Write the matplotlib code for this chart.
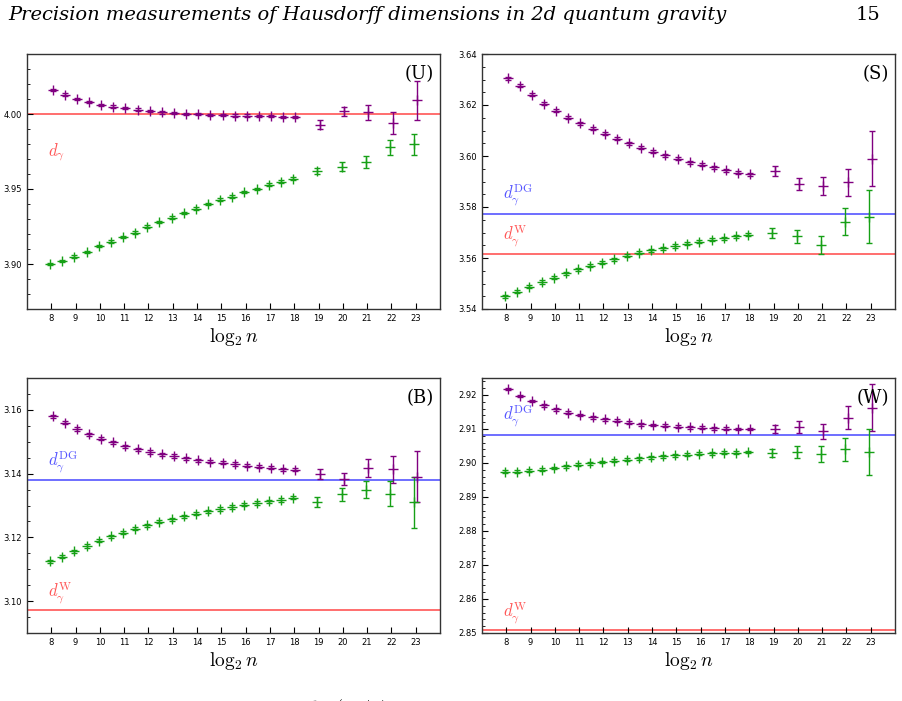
import matplotlib
matplotlib.use("Agg")
import matplotlib.pyplot as plt
import numpy as np

plt.rcParams["mathtext.fontset"] = "cm"

x_dense = [8, 8.5, 9, 9.5, 10, 10.5, 11, 11.5, 12, 12.5, 13, 13.5, 14, 14.5,
           15, 15.5, 16, 16.5, 17, 17.5, 18]
x_sparse = [19, 20, 21, 22, 23]
xticks = list(range(8, 24))

# (U)
u_purple = [4.016, 4.013, 4.010, 4.008, 4.006, 4.005, 4.004, 4.003, 4.002, 4.001, 4.0005,
            4.000, 4.000, 3.9995, 3.9995, 3.999, 3.999, 3.9985, 3.9985, 3.998, 3.998,
            3.993, 4.002, 4.001, 3.994, 4.009]
u_purple_err = [0.0008] * 21 + [0.003, 0.003, 0.005, 0.007, 0.013]
u_green = [3.900, 3.902, 3.905, 3.908, 3.912, 3.915, 3.918, 3.921, 3.925, 3.928, 3.931,
           3.934, 3.937, 3.940, 3.943, 3.945, 3.948, 3.950, 3.953, 3.955, 3.957,
           3.962, 3.965, 3.968, 3.978, 3.980]
u_green_err = [0.0008] * 21 + [0.002, 0.003, 0.004, 0.005, 0.007]

# (S)
s_purple = [3.6305, 3.6275, 3.624, 3.6205, 3.6178, 3.615, 3.6128, 3.6107, 3.6087, 3.6068,
            3.605, 3.6033, 3.6017, 3.6002, 3.599, 3.5975, 3.5966, 3.5955, 3.5944, 3.5935,
            3.5928, 3.594, 3.589, 3.5883, 3.5897, 3.599]
s_purple_err = [0.0006] * 21 + [0.002, 0.0025, 0.0035, 0.0053, 0.0107]
s_green = [3.545, 3.5467, 3.5488, 3.5506, 3.5522, 3.554, 3.5555, 3.557, 3.5582, 3.5595,
           3.5608, 3.562, 3.563, 3.5638, 3.5647, 3.5656, 3.5664, 3.5671, 3.5677, 3.5685,
           3.5691, 3.5697, 3.5685, 3.5652, 3.5743, 3.5762]
s_green_err = [0.0006] * 21 + [0.002, 0.0025, 0.0035, 0.0053, 0.0105]

# (B)
b_purple = [3.158, 3.156, 3.154, 3.1523, 3.151, 3.1498, 3.1486, 3.1476, 3.1468, 3.1461,
            3.1455, 3.1448, 3.1442, 3.1437, 3.1434, 3.143, 3.1425, 3.1422, 3.1418, 3.1414,
            3.1412, 3.1399, 3.1383, 3.1418, 3.1414, 3.139]
b_purple_err = [0.0005] * 21 + [0.0017, 0.002, 0.0029, 0.0042, 0.008]
b_green = [3.1125, 3.114, 3.1156, 3.1173, 3.1189, 3.1203, 3.1215, 3.1227, 3.1238, 3.1249,
           3.1257, 3.1266, 3.1274, 3.1282, 3.1289, 3.1295, 3.1302, 3.1308, 3.1313, 3.1317,
           3.1324, 3.1311, 3.1335, 3.1349, 3.1337, 3.131]
b_green_err = [0.0005] * 21 + [0.0017, 0.0021, 0.0027, 0.004, 0.008]

# (W)
w_purple = [2.9218, 2.9197, 2.9182, 2.917, 2.9158, 2.9148, 2.9141, 2.9134, 2.9129, 2.9124,
            2.9119, 2.9114, 2.9112, 2.911, 2.9107, 2.9105, 2.9104, 2.9102, 2.9101, 2.910,
            2.910, 2.910, 2.9106, 2.9093, 2.9133, 2.9163]
w_purple_err = [0.0004] * 21 + [0.0013, 0.0017, 0.0023, 0.0034, 0.0068]
w_green = [2.8975, 2.8974, 2.8977, 2.898, 2.8985, 2.899, 2.8995, 2.8999, 2.9003, 2.9007,
           2.901, 2.9014, 2.9017, 2.902, 2.9023, 2.9025, 2.9027, 2.9029, 2.903, 2.903,
           2.9032, 2.9029, 2.9033, 2.9027, 2.904, 2.9033]
w_green_err = [0.0004] * 21 + [0.0012, 0.0017, 0.0023, 0.0034, 0.0068]

PURPLE = "#800080"
GREEN = "#16a016"
RED = "#ff5555"
BLUE = "#5555ff"

panels = [
    dict(pos=[27, 54], tag="(U)", ylim=(3.87, 4.04), yticks=[3.90, 3.95, 4.00], minor=0.01,
         purple=(u_purple, u_purple_err), green=(u_green, u_green_err),
         lines=[(4.000, RED, r"$d_\gamma$", 0.60)]),
    dict(pos=[482, 54], tag="(S)", ylim=(3.54, 3.64), yticks=[3.54, 3.56, 3.58, 3.60, 3.62, 3.64],
         minor=0.005, purple=(s_purple, s_purple_err), green=(s_green, s_green_err),
         lines=[(3.5774, BLUE, r"$d_\gamma^{\mathrm{DG}}$", 0.43),
                (3.5616, RED, r"$d_\gamma^{\mathrm{W}}$", 0.27)]),
    dict(pos=[27, 378], tag="(B)", ylim=(3.09, 3.17), yticks=[3.10, 3.12, 3.14, 3.16], minor=0.005,
         purple=(b_purple, b_purple_err), green=(b_green, b_green_err),
         lines=[(3.138, BLUE, r"$d_\gamma^{\mathrm{DG}}$", 0.655),
                (3.0972, RED, r"$d_\gamma^{\mathrm{W}}$", 0.14)]),
    dict(pos=[482, 378], tag="(W)", ylim=(2.85, 2.925),
         yticks=[2.85, 2.86, 2.87, 2.88, 2.89, 2.90, 2.91, 2.92], minor=0.002,
         purple=(w_purple, w_purple_err), green=(w_green, w_green_err),
         lines=[(2.9082, BLUE, r"$d_\gamma^{\mathrm{DG}}$", 0.835),
                (2.8510, RED, r"$d_\gamma^{\mathrm{W}}$", 0.06)]),
]

W, H = 902, 701
fig = plt.figure(figsize=(W / 100, H / 100), dpi=100)
xs = np.array(x_dense + x_sparse)

for p in panels:
    left, top = p["pos"]
    ax = fig.add_axes([left / W, 1 - (top + 255) / H, 413 / W, 255 / H])
    for yv, col, lab, ly in p["lines"]:
        ax.axhline(yv, color=col, lw=1.2, zorder=1)
        ax.text(0.05, ly, lab, color=col, transform=ax.transAxes, fontsize=12)
    for (vals, err), col, dx in [(p["purple"], PURPLE, 0.05), (p["green"], GREEN, -0.05)]:
        ax.errorbar(xs + dx, vals, yerr=err, fmt="+", color=col, ms=7, mew=1.0,
                    elinewidth=1.0, capsize=2, zorder=3)
    ax.set_xlim(7, 24)
    ax.set_ylim(*p["ylim"])
    ax.set_xticks(xticks)
    ax.set_yticks(p["yticks"])
    ax.yaxis.set_major_formatter(matplotlib.ticker.FormatStrFormatter("%.2f"))
    ax.yaxis.set_minor_locator(matplotlib.ticker.MultipleLocator(p["minor"]))
    ax.tick_params(direction="in", labelsize=6, length=4, width=0.8)
    ax.tick_params(which="minor", direction="in", length=2, width=0.6)
    ax.set_xlabel(r"$\log_2 n$", fontsize=14, labelpad=2)
    ax.text(0.985, 0.955, p["tag"], transform=ax.transAxes, ha="right", va="top",
            fontsize=13, family="DejaVu Serif")
    for s in ax.spines.values():
        s.set_linewidth(1.0)
        s.set_color("#333333")

fig.text(8 / W, 1 - 15 / H, "Precision measurements of Hausdorff dimensions in 2d quantum gravity",
         fontsize=14, style="italic", family="DejaVu Serif", va="center", ha="left")
fig.text(880 / W, 1 - 15 / H, "15", fontsize=14, family="DejaVu Serif", va="center", ha="right")
fig.text(312 / W, -8 / H, r"$\log(n_0/n)$", fontsize=13, va="center", ha="left")

fig.savefig("out.png", dpi=100)
